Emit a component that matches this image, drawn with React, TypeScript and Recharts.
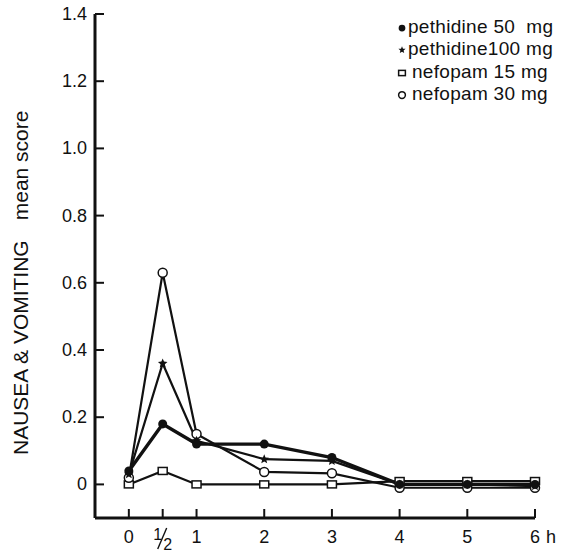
import { LineChart, Line, XAxis, YAxis, Legend } from 'recharts';

// time after dose (h)
const hours = [0, 0.5, 1, 2, 3, 4, 5, 6];
const pethidine50 = [0.04, 0.18, 0.12, 0.12, 0.08, 0.0, 0.0, 0.0];
const pethidine100 = [0.03, 0.36, 0.13, 0.075, 0.07, 0.0, 0.0, -0.005];
const nefopam15 = [0.0, 0.04, 0.0, 0.0, 0.0, 0.01, 0.01, 0.01];
const nefopam30 = [0.02, 0.63, 0.15, 0.037, 0.033, -0.01, -0.01, -0.01];

const xTicks = [0, 0.5, 1, 2, 3, 4, 5, 6];
const yTicks = [0, 0.2, 0.4, 0.6, 0.8, 1.0, 1.2, 1.4];

const legendItems = [
  { key: 'p50', label: 'pethidine 50  mg', marker: 'dot' },
  { key: 'p100', label: 'pethidine100 mg', marker: 'star' },
  { key: 'n15', label: 'nefopam 15 mg', marker: 'square' },
  { key: 'n30', label: 'nefopam 30 mg', marker: 'circle' },
];

const data = hours.map((h, i) => ({
  h,
  p50: pethidine50[i],
  p100: pethidine100[i],
  n15: nefopam15[i],
  n30: nefopam30[i],
}));

const INK = '#111';
const FONT = 'Arial, "Liberation Sans", Helvetica, sans-serif';

function starPath(cx: number, cy: number, r: number) {
  let d = '';
  for (let i = 0; i < 10; i++) {
    const a = -Math.PI / 2 + (i * Math.PI) / 5;
    const rr = i % 2 === 0 ? r : r * 0.45;
    d += (i === 0 ? 'M' : 'L') + (cx + rr * Math.cos(a)).toFixed(2) + ',' + (cy + rr * Math.sin(a)).toFixed(2);
  }
  return d + 'Z';
}

const Marker = ({ type, cx, cy, s = 1 }: { type: string; cx: number; cy: number; s?: number }) => {
  if (type === 'dot') return <circle cx={cx} cy={cy} r={4.5 * s} fill={INK} />;
  if (type === 'star') return <path d={starPath(cx, cy, 5 * s)} fill={INK} />;
  if (type === 'square')
    return (
      <rect x={cx - 4.5 * s} y={cy - 3.5 * s} width={9 * s} height={7 * s} fill="#fff" stroke={INK} strokeWidth={1.5} />
    );
  return <circle cx={cx} cy={cy} r={4.5 * s} fill="#fff" stroke={INK} strokeWidth={1.5} />;
};

const dotFor = (type: string) => (props: any) => {
  const { cx, cy, index } = props;
  if (cx == null || cy == null) return <g key={index} />;
  return (
    <g key={index}>
      <Marker type={type} cx={cx} cy={cy} />
    </g>
  );
};

const YTick = (props: any) => {
  const { x, y, payload } = props;
  const v = payload.value;
  return (
    <g>
      <line x1={x} x2={x + 9} y1={y} y2={y} stroke={INK} strokeWidth={2} />
      <text x={x - 8} y={y + 6} textAnchor="end" fontSize={18} fontFamily={FONT} fill={INK}>
        {v === 0 ? '0' : v.toFixed(1)}
      </text>
    </g>
  );
};

const XTick = (props: any) => {
  const { x, y, payload } = props;
  const v = payload.value;
  let label: any;
  if (v === 0.5) {
    label = (
      <g fontSize={16} fontFamily={FONT} fill={INK}>
        <text x={x - 5} y={y + 22} textAnchor="middle">1</text>
        <line x1={x - 5} y1={y + 31} x2={x + 4} y2={y + 10} stroke={INK} strokeWidth={1.4} />
        <text x={x + 5} y={y + 32} textAnchor="middle">2</text>
      </g>
    );
  } else if (v === 6) {
    label = (
      <g fontSize={18} fontFamily={FONT} fill={INK}>
        <text x={x} y={y + 25} textAnchor="middle">6</text>
        <text x={x + 11} y={y + 25}>h</text>
      </g>
    );
  } else {
    label = (
      <text x={x} y={y + 25} textAnchor="middle" fontSize={18} fontFamily={FONT} fill={INK}>
        {v}
      </text>
    );
  }
  return (
    <g>
      <line x1={x} x2={x} y1={y} y2={y - 9} stroke={INK} strokeWidth={2} />
      {label}
    </g>
  );
};

const LegendBox = () => (
  <div style={{ fontFamily: FONT, fontSize: 19, color: INK, letterSpacing: 0.3 }}>
    {legendItems.map((it) => (
      <div key={it.key} style={{ display: 'flex', alignItems: 'center', height: 22.3, whiteSpace: 'pre' }}>
        <svg width={it.marker === 'dot' || it.marker === 'star' ? 12 : 16} height={14}>
          <Marker type={it.marker} cx={6} cy={8} s={0.75} />
        </svg>
        <span>{it.label}</span>
      </div>
    ))}
  </div>
);

export default function App() {
  return (
    <div style={{ position: 'fixed', left: 0, top: 0, width: 570, height: 552, background: '#fff' }}>
      <LineChart width={570} height={552} data={data} margin={{ top: 14, right: 35, bottom: 0, left: 0 }}>
        <XAxis
          dataKey="h"
          type="number"
          domain={[-0.5, 6]}
          ticks={xTicks}
          tickSize={0}
          tickMargin={0}
          tick={<XTick />}
          height={34}
          axisLine={{ stroke: INK, strokeWidth: 3 }}
          tickLine={false}
          interval={0}
        />
        <YAxis
          type="number"
          domain={[-0.1, 1.4]}
          ticks={yTicks}
          tickSize={0}
          tickMargin={0}
          tick={<YTick />}
          width={95}
          axisLine={{ stroke: INK, strokeWidth: 3 }}
          tickLine={false}
          interval={0}
          allowDataOverflow
          label={{
            content: () => (
              <text
                transform="translate(28,455) rotate(-90)"
                fontSize={21}
                fontFamily={FONT}
                fill={INK}
                style={{ whiteSpace: 'pre' }}
              >
                <tspan>NAUSEA &amp; VOMITING</tspan>
                <tspan dx={20}>mean score</tspan>
              </text>
            ),
          }}
        />
        <Legend
          layout="vertical"
          align="center"
          verticalAlign="middle"
          content={<LegendBox />}
          wrapperStyle={{ top: 16, left: 396, width: 180, bottom: 'auto', right: 'auto' }}
        />
        <Line dataKey="n15" stroke={INK} strokeWidth={2.2} dot={dotFor('square')} isAnimationActive={false} />
        <Line dataKey="n30" stroke={INK} strokeWidth={2.2} dot={dotFor('circle')} isAnimationActive={false} />
        <Line dataKey="p100" stroke={INK} strokeWidth={2.2} dot={dotFor('star')} isAnimationActive={false} />
        <Line dataKey="p50" stroke={INK} strokeWidth={3.4} dot={dotFor('dot')} isAnimationActive={false} />
      </LineChart>
    </div>
  );
}
